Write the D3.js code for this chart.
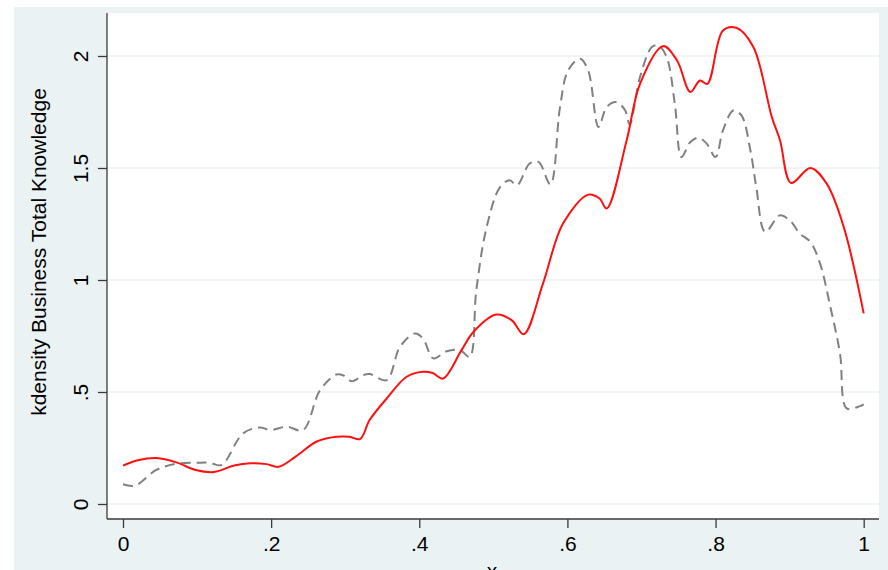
<!DOCTYPE html>
<html>
<head>
<meta charset="utf-8">
<script src="https://cdn.jsdelivr.net/npm/d3@7"></script>
<style>
  html, body { margin: 0; padding: 0; background: #ffffff; }
  svg { display: block; font-family: "Liberation Sans", Arial, Helvetica, sans-serif; }
</style>
</head>
<body>
<svg id="chart" width="888" height="570"></svg>
<script>
// Kernel density estimates of Business Total Knowledge, two groups
const redX = [0, 0.02, 0.045, 0.072, 0.098, 0.123, 0.15, 0.172, 0.194, 0.21, 0.234, 0.261, 0.288, 0.306, 0.32,
  0.333, 0.356, 0.383, 0.405, 0.418, 0.432, 0.457, 0.473, 0.504, 0.525, 0.541, 0.567, 0.594, 0.628, 0.643, 0.653,
  0.68, 0.698, 0.729, 0.748, 0.766, 0.779, 0.789, 0.81, 0.828, 0.851, 0.876, 0.887, 0.902, 0.928, 0.95, 0.973, 1.0];
const redY = [0.171, 0.195, 0.205, 0.186, 0.152, 0.143, 0.172, 0.182, 0.178, 0.166, 0.214, 0.278, 0.300, 0.300, 0.290,
  0.375, 0.471, 0.568, 0.590, 0.585, 0.560, 0.687, 0.768, 0.846, 0.820, 0.758, 0.984, 1.252, 1.381, 1.365, 1.319,
  1.624, 1.876, 2.044, 1.980, 1.839, 1.891, 1.876, 2.114, 2.126, 2.040, 1.727, 1.624, 1.433, 1.500, 1.430, 1.237, 0.851];

const grayX = [0, 0.016, 0.045, 0.072, 0.1, 0.117, 0.133, 0.162, 0.185, 0.198, 0.221, 0.243, 0.266, 0.288, 0.297,
  0.309, 0.324, 0.333, 0.356, 0.374, 0.394, 0.405, 0.419, 0.437, 0.455, 0.468, 0.477, 0.491, 0.509, 0.522, 0.532,
  0.549, 0.561, 0.577, 0.59, 0.601, 0.617, 0.628, 0.642, 0.653, 0.666, 0.678, 0.684, 0.698, 0.714, 0.723, 0.734,
  0.745, 0.754, 0.766, 0.777, 0.788, 0.8, 0.81, 0.824, 0.835, 0.847, 0.855, 0.867, 0.887, 0.9, 0.914, 0.928,
  0.941, 0.955, 0.968, 0.977, 0.995, 1.0];
const grayY = [0.088, 0.082, 0.152, 0.180, 0.184, 0.184, 0.174, 0.315, 0.342, 0.330, 0.345, 0.330, 0.508, 0.578, 0.575,
  0.548, 0.575, 0.580, 0.553, 0.702, 0.761, 0.739, 0.650, 0.682, 0.687, 0.657, 0.954, 1.237, 1.415, 1.445, 1.423,
  1.520, 1.527, 1.427, 1.772, 1.936, 1.988, 1.936, 1.683, 1.772, 1.794, 1.757, 1.695, 1.906, 2.040, 2.047, 1.995,
  1.787, 1.549, 1.616, 1.635, 1.609, 1.549, 1.668, 1.757, 1.735, 1.579, 1.415, 1.215, 1.289, 1.267, 1.207, 1.170,
  1.074, 0.880, 0.672, 0.427, 0.437, 0.445];

const xTicks = [0, 0.2, 0.4, 0.6, 0.8, 1];
const xTickLabels = ["0", ".2", ".4", ".6", ".8", "1"];
const yTicks = [0, 0.5, 1, 1.5, 2];
const yTickLabels = ["0", ".5", "1", "1.5", "2"];

const svg = d3.select("#chart");
const W = 888, H = 570;

// Plot region geometry
const plot = { left: 107, right: 879, top: 13, bottom: 519 };

const x = d3.scaleLinear().domain([0, 1]).range([123, 863.7]);
const y = d3.scaleLinear().domain([0, 2]).range([504, 56]);

// Graph region background
svg.append("rect").attr("x", 14).attr("y", 7).attr("width", W - 14).attr("height", H - 7)
  .attr("fill", "#eaf2f3");
svg.append("rect").attr("x", plot.left).attr("y", plot.top)
  .attr("width", plot.right - plot.left).attr("height", plot.bottom - plot.top)
  .attr("fill", "#ffffff");

// Horizontal grid lines
svg.append("g").selectAll("line").data(yTicks).join("line")
  .attr("x1", plot.left).attr("x2", plot.right)
  .attr("y1", d => y(d)).attr("y2", d => y(d))
  .attr("stroke", "#eaf2f3").attr("stroke-width", 1.6);

// Density curves
const line = (xs, ys) => d3.line()
  .x(i => x(xs[i])).y(i => y(ys[i]))
  .curve(d3.curveCatmullRom.alpha(0.5))(d3.range(xs.length));

svg.append("path").attr("d", line(grayX, grayY))
  .attr("fill", "none").attr("stroke", "#808080").attr("stroke-width", 2)
  .attr("stroke-dasharray", "10,6");

svg.append("path").attr("d", line(redX, redY))
  .attr("fill", "none").attr("stroke", "#ff1010").attr("stroke-width", 2);

// Y axis
const yAxis = d3.axisLeft(y).tickValues(yTicks)
  .tickFormat((d, i) => yTickLabels[i]).tickSize(9).tickPadding(4);
const gy = svg.append("g").attr("transform", `translate(${plot.left},0)`).call(yAxis);
gy.select(".domain").attr("d", `M0,${plot.top}V${plot.bottom}`).attr("stroke", "#3a3a3a").attr("stroke-width", 1.3);
gy.selectAll(".tick line").attr("stroke", "#3a3a3a").attr("stroke-width", 1.3);
gy.selectAll(".tick text")
  .attr("font-size", 21).attr("fill", "#000")
  .attr("x", null).attr("dy", null)
  .attr("text-anchor", "middle")
  .attr("transform", "translate(-19,0) rotate(-90)");

// X axis
const xAxis = d3.axisBottom(x).tickValues(xTicks)
  .tickFormat((d, i) => xTickLabels[i]).tickSize(9).tickPadding(6);
const gx = svg.append("g").attr("transform", `translate(0,${plot.bottom})`).call(xAxis);
gx.select(".domain").attr("d", `M${plot.left},0H${plot.right}`).attr("stroke", "#3a3a3a").attr("stroke-width", 1.3);
gx.selectAll(".tick line").attr("stroke", "#3a3a3a").attr("stroke-width", 1.3);
gx.selectAll(".tick text").attr("font-size", 21).attr("fill", "#000")
  .attr("dy", null).attr("y", 32);

// Axis titles
svg.append("text")
  .attr("transform", "translate(46,252) rotate(-90)")
  .attr("text-anchor", "middle").attr("font-size", 21).attr("fill", "#000")
  .text("kdensity Business Total Knowledge");

svg.append("text")
  .attr("x", 492).attr("y", 578)
  .attr("text-anchor", "middle").attr("font-size", 21).attr("fill", "#000")
  .text("x");
</script>
</body>
</html>
